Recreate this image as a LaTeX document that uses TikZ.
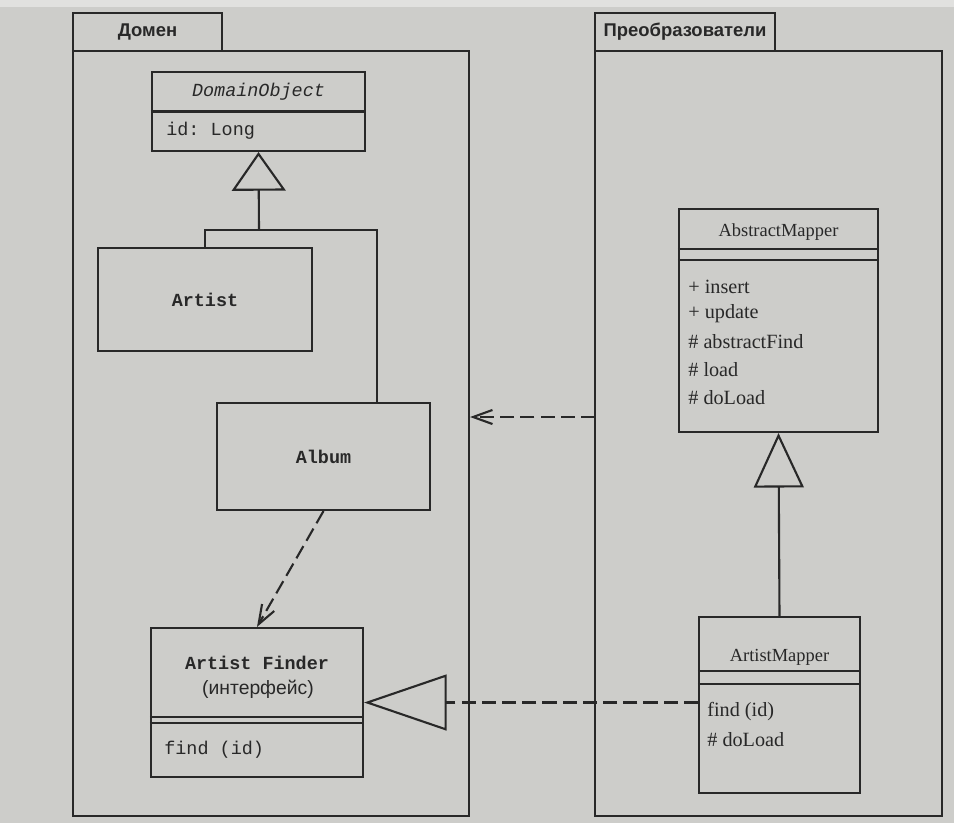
\documentclass[tikz,border=0pt]{standalone}
\usepackage{fontspec}
\setmonofont{Liberation Mono}
\newfontfamily\pkgfont{Liberation Sans}
\newfontfamily\memfont{Liberation Serif}
\usetikzlibrary{arrows.meta}
\definecolor{paper}{RGB}{205,205,202}
\definecolor{ink}{RGB}{40,40,40}
\newcommand{\pxl}{0.02cm}
\tikzstyle{pkg}=[draw=ink, line width=1.2pt, rectangle, inner sep=0, text=ink, font=\fontsize{10.5}{12}\selectfont\pkgfont\bfseries]
\tikzstyle{cls}=[draw=ink, line width=1.2pt, rectangle, inner sep=0, text=ink, font=\fontsize{10.5}{12}\selectfont\ttfamily\bfseries]
\tikzstyle{tt}=[inner sep=0, text=ink, font=\fontsize{10.5}{12}\selectfont\ttfamily]
\tikzstyle{sf}=[inner sep=0, text=ink, font=\fontsize{11}{13}\selectfont\pkgfont]
\tikzstyle{hd}=[inner sep=0, text=ink, font=\fontsize{10.5}{12}\selectfont\memfont]
\tikzstyle{mem}=[inner sep=0, anchor=west, text=ink, font=\fontsize{11.5}{14}\selectfont\memfont]
\tikzstyle{ln}=[draw=ink, line width=1.2pt]
\tikzstyle{dep}=[ln, dash pattern=on 8pt off 3.5pt, -{Straight Barb[length=11pt,width=8pt]}]

\begin{document}
\begin{tikzpicture}[x=\pxl, y=-\pxl]
\fill[paper] (0,0) rectangle (954,823);
\fill[paper!60!white] (0,0) rectangle (954,7);
\useasboundingbox (0,0) rectangle (954,823);
\draw (147.5,32) node[pkg, minimum width=149*\pxl, minimum height=38*\pxl](domtab) {Домен};
\draw (271,433.5) node[pkg, minimum width=396*\pxl, minimum height=765*\pxl](dombody) {};
\draw (685,32) node[pkg, minimum width=180*\pxl, minimum height=38*\pxl](maptab) {Преобразователи};
\draw (768.5,433.5) node[pkg, minimum width=347*\pxl, minimum height=765*\pxl](mapbody) {};
\draw (258.5,111.5) node[cls, minimum width=213*\pxl, minimum height=79*\pxl](domobj) {};
\draw[ln] (domobj.west) -- (domobj.east);
\draw (258.5,92) node[tt, font=\fontsize{10.5}{12}\selectfont\ttfamily\itshape](domobjname) {DomainObject};
\draw (166,131) node[tt, anchor=west](domobjid) {id: Long};
\draw (205,299.5) node[cls, minimum width=214*\pxl, minimum height=103*\pxl](artist) {Artist};
\draw (323.5,456.5) node[cls, minimum width=213*\pxl, minimum height=107*\pxl](album) {Album};
\draw (257,702.5) node[cls, minimum width=212*\pxl, minimum height=149*\pxl](finder) {};
\draw (257,663) node[tt, font=\fontsize{10.5}{12}\selectfont\ttfamily\bfseries](findername) {Artist Finder};
\draw (258,689) node[sf](finderkind) {(интерфейс)};
\draw[ln] (finder.west |- 0,717) -- (finder.east |- 0,717);
\draw[ln] (finder.west |- 0,723) -- (finder.east |- 0,723);
\draw (164,750) node[tt, anchor=west](finderop) {find (id)};
\draw (778.5,320.5) node[cls, minimum width=199*\pxl, minimum height=223*\pxl](absmap) {};
\draw (778.5,232) node[hd](absmapname) {AbstractMapper};
\draw[ln] (absmap.west |- 0,249) -- (absmap.east |- 0,249);
\draw[ln] (absmap.west |- 0,260) -- (absmap.east |- 0,260);
\draw (688,287) node[mem](op1) {+ insert};
\draw (688,314) node[mem](op2) {+ update};
\draw (688,342) node[mem](op3) {\# abstractFind};
\draw (688,370) node[mem](op4) {\# load};
\draw (688,398) node[mem](op5) {\# doLoad};
\draw (779.5,705) node[cls, minimum width=161*\pxl, minimum height=176*\pxl](artmap) {};
\draw (779.5,657) node[hd](artmapname) {ArtistMapper};
\draw[ln] (artmap.west |- 0,671) -- (artmap.east |- 0,671);
\draw[ln] (artmap.west |- 0,684) -- (artmap.east |- 0,684);
\draw (707,712) node[mem](amop1) {find (id)};
\draw (707,740) node[mem](amop2) {\# doLoad};
\coordinate (gjoin) at (259,230);
\coordinate (gbar) at (377,230);
\draw[ln] (artist.north) |- (gbar) -- (gbar |- album.north);
\draw[ln, -{Triangle[open, length=22pt, width=30.6pt]}] (gjoin) -- (domobj.south);
\draw[ln, -{Triangle[open, length=31pt, width=28.4pt]}] (artmap.north) -- (absmap.south);
\draw[ln, dash pattern=on 8pt off 3.5pt, -{Triangle[open, length=47pt, width=31.8pt]}] (artmap.west |- finder.east) -- (finder.east);
\draw[dep] (album.south) -- (finder.north);
\coordinate (pdep) at (595,417);
\draw[dep] (pdep) -- (pdep -| dombody.east);
\end{tikzpicture}
\end{document}
